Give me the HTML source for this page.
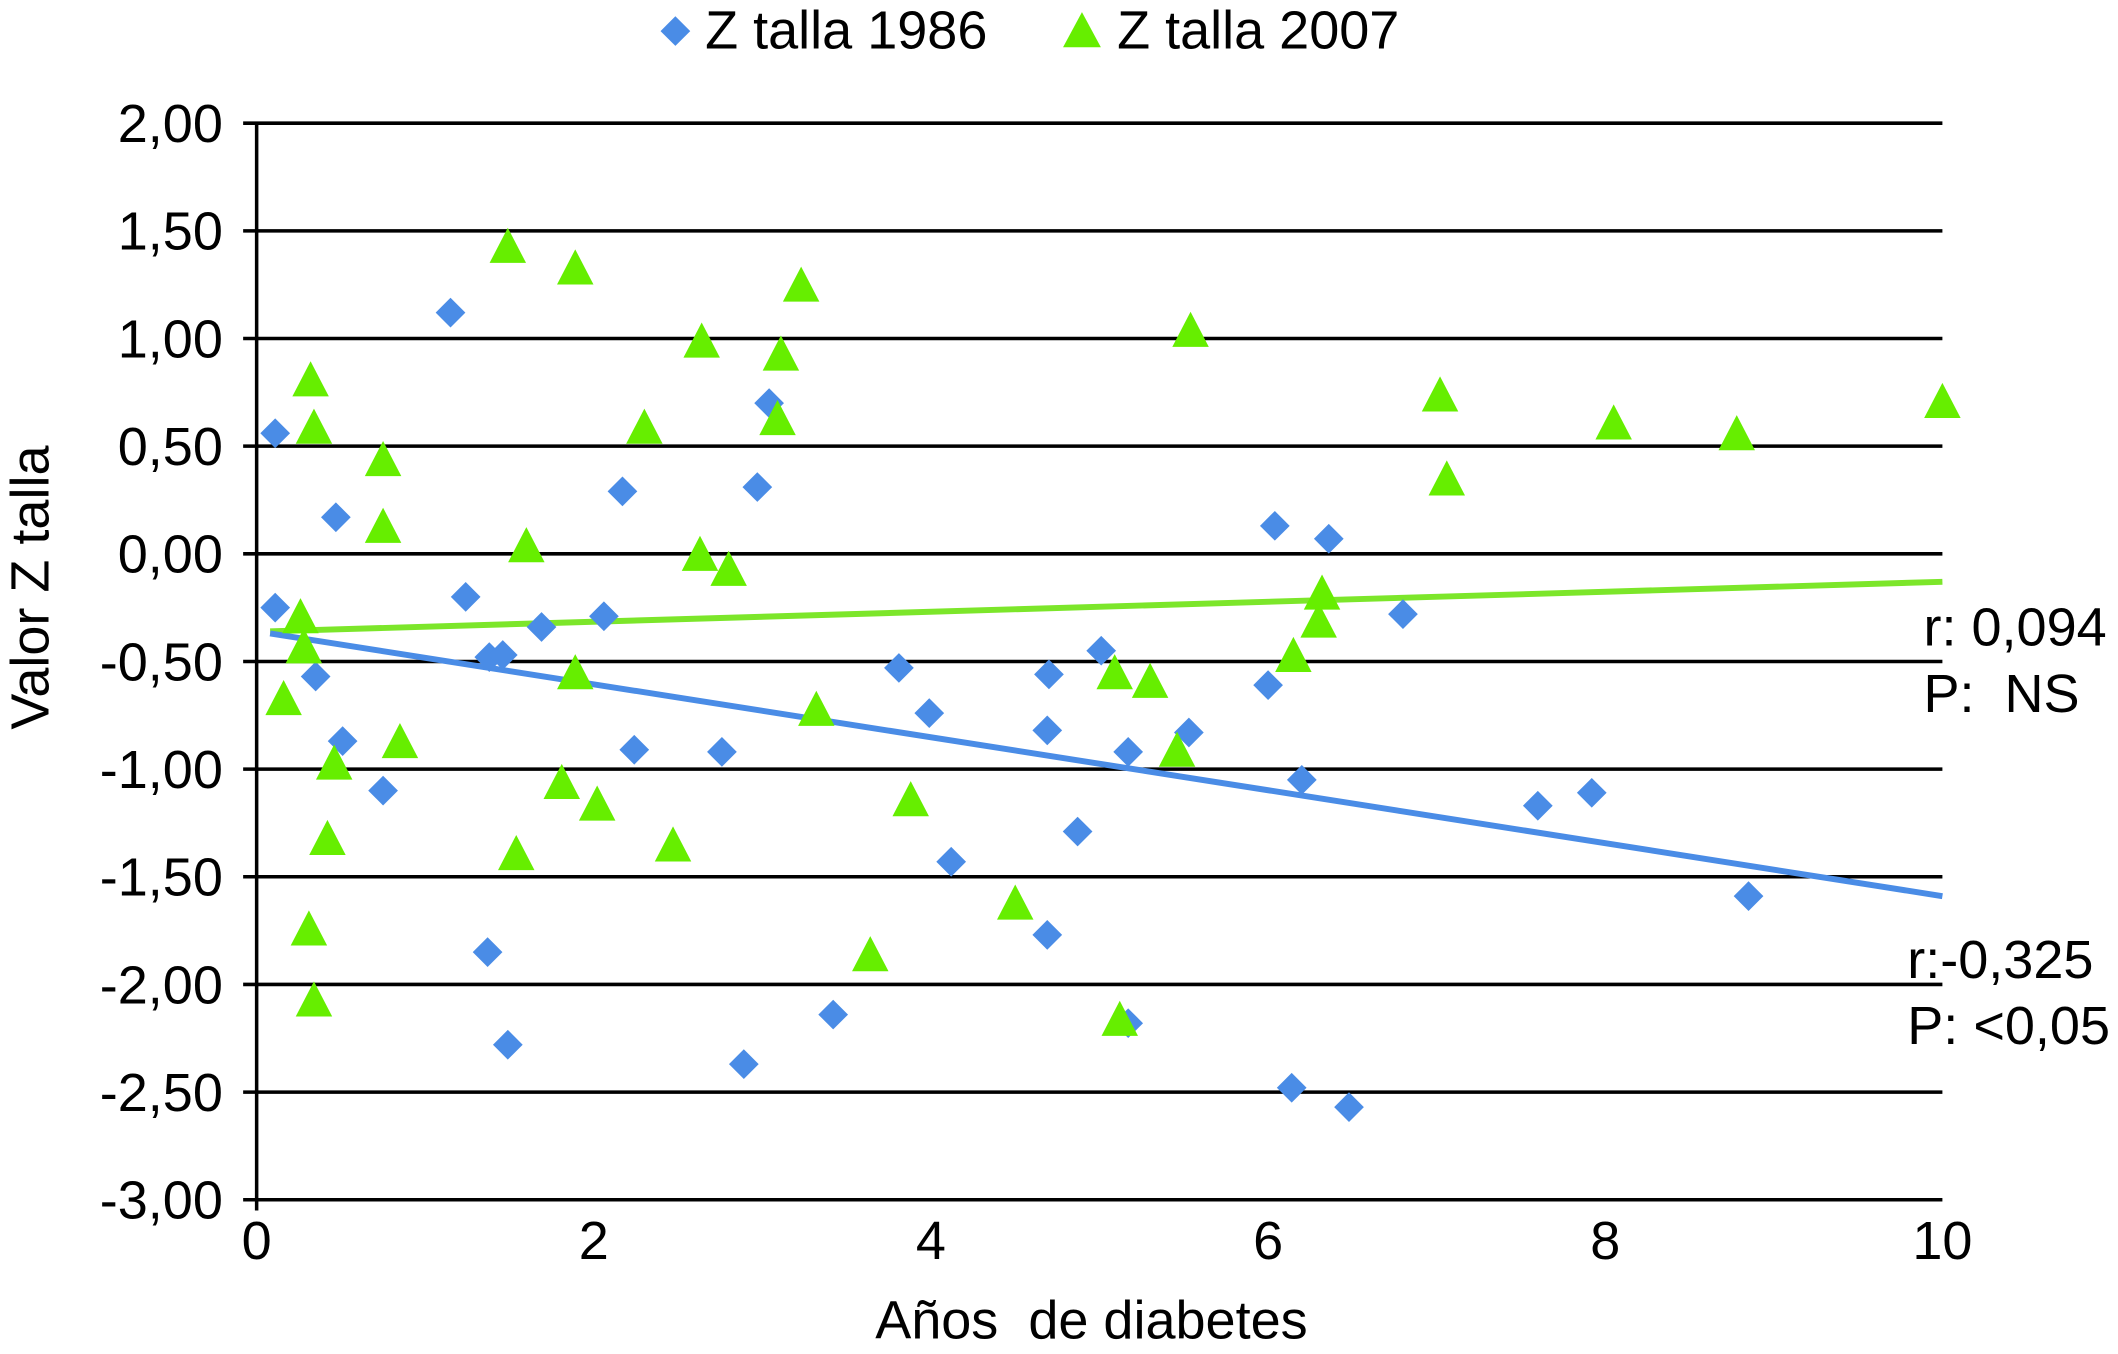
<!DOCTYPE html>
<html><head><meta charset="utf-8"><style>
html,body{margin:0;padding:0;background:#fff;}
svg{display:block;font-family:"Liberation Sans",Arial,sans-serif;}
text{white-space:pre;}
</style></head><body>
<svg id="chart" width="2118" height="1354" viewBox="0 0 1568 1002.4" preserveAspectRatio="none" xmlns="http://www.w3.org/2000/svg">
<g id="grid"></g>
<g id="ticks"></g>
<g id="lines"></g>
<g id="pts"></g>
<g>
 <path d="M500,12 L511,23 L500,34 L489,23 Z" fill="#4A8CE6"/>
 <text x="522" y="36" font-size="40">Z talla 1986</text>
 <path d="M801,9 L815,35 L787,35 Z" fill="#66EE00"/>
 <text x="827" y="36" font-size="40">Z talla 2007</text>
</g>
<text transform="translate(36,435) rotate(-90)" text-anchor="middle" font-size="40">Valor Z talla</text>
<text x="808" y="991" text-anchor="middle" font-size="40" style="white-space:pre">Años  de diabetes</text>
<text x="1424" y="478" font-size="40">r: 0,094</text>
<text x="1424" y="527" font-size="40" style="white-space:pre">P:  NS</text>
<text x="1412" y="724" font-size="40">r:-0,325</text>
<text x="1412" y="773" font-size="40">P: &lt;0,05</text>
</svg>
<script>
const yTicks=[2,1.5,1,0.5,0,-0.5,-1,-1.5,-2,-2.5,-3];
const yTickLabels=["2,00","1,50","1,00","0,50","0,00","-0,50","-1,00","-1,50","-2,00","-2,50","-3,00"];
const xTicks=[0,2,4,6,8,10];
const x1986=[0.11,0.11,0.35,0.47,0.51,0.75,1.15,1.24,1.37,1.38,1.46,1.49,1.69,2.06,2.17,2.24,2.76,2.89,2.97,3.04,3.42,3.81,3.99,4.12,4.69,4.70,4.69,4.87,5.01,5.17,5.17,5.53,6.00,6.04,6.14,6.20,6.36,6.48,6.80,7.60,7.92,8.85];
const y1986=[0.56,-0.25,-0.57,0.17,-0.87,-1.10,1.12,-0.20,-1.85,-0.48,-0.47,-2.28,-0.34,-0.29,0.29,-0.91,-0.92,-2.37,0.31,0.70,-2.14,-0.53,-0.74,-1.43,-1.77,-0.56,-0.82,-1.29,-0.45,-0.92,-2.18,-0.83,-0.61,0.13,-2.48,-1.05,0.07,-2.57,-0.28,-1.17,-1.11,-1.59];
const x2007=[0.16,0.26,0.28,0.32,0.34,0.31,0.34,0.42,0.46,0.75,0.75,0.85,1.49,1.54,1.60,1.81,1.89,1.89,2.02,2.30,2.47,2.64,2.63,2.80,3.11,3.09,3.23,3.32,3.64,3.88,4.50,5.09,5.12,5.30,5.46,5.54,6.15,6.30,6.32,7.02,7.06,8.05,8.78,10.0];
const y2007=[-0.68,-0.30,-0.44,0.80,0.58,-1.75,-2.08,-1.33,-0.98,0.43,0.12,-0.88,1.42,-1.40,0.03,-1.07,1.32,-0.56,-1.17,0.58,-1.36,0.98,-0.01,-0.08,0.92,0.62,1.24,-0.73,-1.87,-1.15,-1.63,-0.56,-2.17,-0.60,-0.92,1.03,-0.48,-0.32,-0.19,0.73,0.34,0.60,0.55,0.70];
const trendX=[0.08,10];
const trend1986=[-0.37,-1.59];
const trend2007=[-0.36,-0.13];
const NS="http://www.w3.org/2000/svg";
const X=v=>190+v*124.8, Y=v=>410-v*159.4;
function mk(t,a,p){const e=document.createElementNS(NS,t);for(const k in a)e.setAttribute(k,a[k]);p.appendChild(e);return e;}
const grid=document.getElementById('grid'),ticks=document.getElementById('ticks'),lines=document.getElementById('lines'),pts=document.getElementById('pts');
yTicks.forEach((v,i)=>{
 const l=mk('line',{x1:180,x2:1438,y1:Y(v),y2:Y(v),stroke:'#000','stroke-width':2.6},grid);
 
 
 const t=mk('text',{x:165,y:Y(v)+14,'text-anchor':'end','font-size':40},ticks);
 t.textContent=yTickLabels[i];
 
 
});
const ax=mk('line',{x1:X(0),x2:X(0),y1:Y(2),y2:Y(-3)+8,stroke:'#000','stroke-width':2.6},grid);


xTicks.forEach(v=>{
 const t=mk('text',{x:X(v),y:932,'text-anchor':'middle','font-size':40},ticks);
 t.textContent=String(v);
 
 
});
const l1=mk('line',{x1:X(trendX[0]),x2:X(trendX[1]),y1:Y(trend2007[0]),y2:Y(trend2007[1]),stroke:'#7CE62A','stroke-width':4.4},lines);


const l2=mk('line',{x1:X(trendX[0]),x2:X(trendX[1]),y1:Y(trend1986[0]),y2:Y(trend1986[1]),stroke:'#4A8CE6','stroke-width':4.4},lines);


x1986.forEach((v,i)=>{
 const cx=X(v),cy=Y(y1986[i]);
 const p=mk('path',{d:`M${cx},${cy-11}L${cx+11},${cy}L${cx},${cy+11}L${cx-11},${cy}Z`,fill:'#4A8CE6'},pts);
 
 
});
x2007.forEach((v,i)=>{
 const cx=X(v),cy=Y(y2007[i]);
 const p=mk('path',{d:`M${cx},${cy-15}L${cx+13.5},${cy+11}L${cx-13.5},${cy+11}Z`,fill:'#66EE00'},pts);
 
 
});
</script>
</body></html>
